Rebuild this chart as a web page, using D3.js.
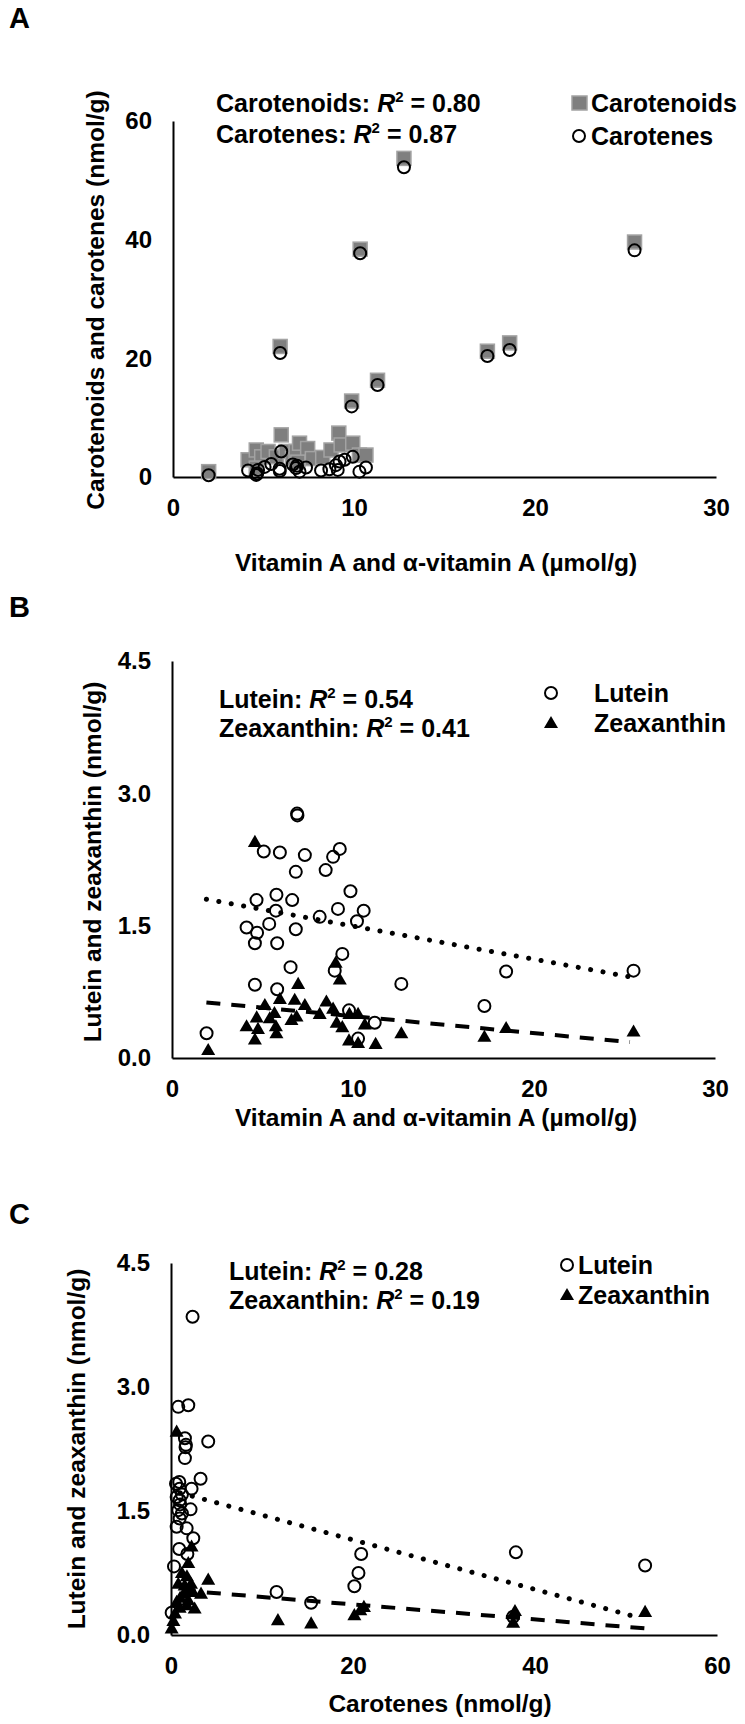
<!DOCTYPE html>
<html>
<head>
<meta charset="utf-8">
<script src="https://cdn.jsdelivr.net/npm/d3@7"></script>
<style>
  html, body { margin: 0; padding: 0; background: #fff; }
  svg { display: block; }
</style>
</head>
<body>
<script>
// ---------------- DATA ----------------
// Panel A: vitamin A (x) vs carotenoids / carotenes (y)
const aCarotenoidsX = [1.97, 5.92, 12.76, 10.34, 25.5, 17.37, 18.6, 11.3, 9.87, 4.15, 4.6, 4.9, 5.25, 5.71, 5.98, 6.25, 6.6, 6.8, 6.99, 7.44, 7.7, 8.27, 8.73, 9.16, 9.29, 9.93, 10.3, 10.66, 4.6, 6.9];
const aCarotenoidsY = [0.9, 22.0, 53.7, 38.4, 39.6, 21.2, 22.6, 16.3, 12.8, 2.9, 4.55, 3.4, 4.3, 3.4, 7.1, 4.3, 3.1, 4.3, 5.7, 4.8, 3.1, 3.3, 4.55, 7.4, 5.4, 5.7, 3.7, 3.7, 1.5, 2.5];
const aCarotenesX = [1.97, 5.92, 12.76, 10.34, 25.5, 17.37, 18.6, 11.3, 9.87, 4.15, 4.6, 4.7, 5.06, 5.43, 5.98, 5.89, 6.62, 6.8, 6.99, 7.35, 8.18, 8.64, 9.0, 9.2, 9.48, 9.93, 10.3, 10.66, 9.1, 4.65, 6.85, 5.9];
const aCarotenesY = [0.3, 20.9, 52.2, 37.7, 38.2, 20.4, 21.4, 15.5, 11.9, 1.1, 0.35, 1.2, 1.7, 2.2, 4.3, 1.4, 2.1, 1.5, 0.9, 1.6, 1.1, 1.3, 2.0, 2.6, 2.9, 3.4, 0.9, 1.6, 1.2, 0.6, 1.9, 1.0];
const aXTicks = [0, 10, 20, 30];
const aYTicks = [0, 20, 40, 60];

// Panel B: vitamin A (x) vs lutein / zeaxanthin (y)
const bLuteinX = [1.91, 4.58, 4.12, 4.58, 4.7, 4.67, 5.07, 5.37, 5.74, 5.77, 5.81, 5.96, 5.81, 6.55, 6.64, 6.84, 6.84, 6.91, 6.93, 7.34, 8.16, 8.49, 8.9, 9.27, 9.17, 8.99, 9.41, 9.86, 10.22, 10.59, 9.78, 10.28, 11.2, 12.67, 17.26, 18.46, 25.5];
const bLuteinY = [0.28, 0.83, 1.48, 1.30, 1.42, 1.79, 2.34, 1.52, 1.67, 1.85, 1.30, 2.33, 0.78, 1.03, 1.79, 1.46, 2.11, 2.77, 2.75, 2.30, 1.60, 2.13, 2.28, 2.37, 1.69, 0.99, 1.18, 1.89, 1.55, 1.67, 0.54, 0.22, 0.40, 0.84, 0.59, 0.98, 0.99];
const bZeaX = [2.0, 4.58, 4.12, 4.68, 4.75, 4.58, 5.13, 5.4, 5.66, 5.74, 5.77, 5.96, 6.6, 6.78, 6.88, 6.97, 7.34, 8.16, 8.53, 8.9, 9.04, 9.27, 9.1, 9.41, 9.8, 10.28, 9.78, 10.28, 10.65, 11.25, 12.67, 17.26, 18.46, 25.5];
const bZeaY = [0.09, 2.45, 0.36, 0.46, 0.33, 0.21, 0.60, 0.45, 0.51, 0.36, 0.28, 0.67, 0.43, 0.66, 0.47, 0.84, 0.60, 0.50, 0.64, 0.56, 1.08, 0.89, 0.40, 0.35, 0.50, 0.50, 0.20, 0.17, 0.38, 0.16, 0.28, 0.24, 0.34, 0.30];
const bLuteinTrend = [[1.9, 1.80], [25.3, 0.92]];
const bZeaTrend = [[1.9, 0.63], [25.3, 0.18]];
const bXTicks = [0, 10, 20, 30];
const lzYTicks = [0, 1.5, 3.0, 4.5];

// Panel C: carotenes (x) vs lutein / zeaxanthin (y)
const cLuteinX = [2.37, 0.8, 1.9, 1.53, 1.64, 1.53, 4.09, 3.25, 0.91, 0.95, 2.26, 0.62, 0.95, 0.8, 2.15, 0.95, 0.62, 1.72, 2.45, 0.9, 1.8, 0.33, 20.9, 20.6, 20.15, 11.6, 15.4, 0.07, 37.9, 52.1, 37.6, 0.55, 1.2, 1.0, 1.2, 1.6];
const cLuteinY = [3.85, 2.76, 2.78, 2.38, 2.30, 2.14, 2.34, 1.89, 1.85, 1.77, 1.77, 1.67, 1.63, 1.51, 1.52, 1.41, 1.31, 1.29, 1.17, 1.04, 0.98, 0.83, 0.98, 0.75, 0.59, 0.52, 0.39, 0.27, 1.0, 0.84, 0.22, 1.83, 1.70, 1.58, 1.47, 2.27];
const cZeaX = [0.62, 1.9, 2.26, 4.09, 0.8, 1.75, 1.4, 2.4, 3.3, 0.62, 1.9, 2.6, 0.44, 0.26, 0.07, 11.75, 15.4, 20.15, 20.8, 21.2, 37.8, 37.6, 52.1, 1.2, 1.5, 0.95, 1.75, 2.2, 1.0, 2.0];
const cZeaY = [2.46, 0.87, 1.07, 0.67, 0.62, 0.71, 0.50, 0.52, 0.50, 0.40, 0.42, 0.32, 0.26, 0.17, 0.08, 0.18, 0.14, 0.24, 0.30, 0.34, 0.29, 0.15, 0.28, 0.75, 0.60, 0.33, 0.36, 0.62, 0.45, 0.55];
const cLuteinTrend = [[1.0, 1.72], [51.4, 0.21]];
const cZeaTrend = [[1.2, 0.54], [52.1, 0.08]];
const cXTicks = [0, 20, 40, 60];

// ---------------- DRAWING ----------------
const W = 745, H = 1724;
const FONT = "'Liberation Sans', Arial, Helvetica, sans-serif";
const FS_TICK = 24, FS_TITLE = 24.5, FS_NOTE = 25;
const svg = d3.select("body").append("svg").attr("width", W).attr("height", H)
  .style("font-family", FONT);
svg.append("rect").attr("width", W).attr("height", H).attr("fill", "#fff");

const zip = (xs, ys) => xs.map((x, i) => [x, ys[i]]);
const triPath = d3.symbol().type(d3.symbolTriangle).size(85)();

function drawAxes(g, x, y, xTicks, yTicks, yFmt) {
  const xa = g.append("g").attr("transform", `translate(0,${y.range()[0]})`)
    .call(d3.axisBottom(x).tickValues(xTicks).tickSize(0).tickSizeOuter(0).tickPadding(22).tickFormat(d3.format("d")));
  const ya = g.append("g").attr("transform", `translate(${x.range()[0]},0)`)
    .call(d3.axisLeft(y).tickValues(yTicks).tickSize(0).tickSizeOuter(0).tickPadding(21).tickFormat(yFmt));
  [xa, ya].forEach(a => {
    a.select(".domain").attr("stroke", "#000").attr("stroke-width", 2);
    a.selectAll("text").attr("font-family", FONT).attr("font-size", FS_TICK).attr("font-weight", "bold").attr("fill", "#000");
  });
}

function text(g, x, y, str, opts = {}) {
  return g.append("text").attr("x", x).attr("y", y).text(str)
    .attr("font-size", opts.size || FS_NOTE).attr("font-weight", "bold")
    .attr("text-anchor", opts.anchor || "start").attr("fill", "#000");
}

function r2Text(g, x, y, label, val) {
  const t = g.append("text").attr("x", x).attr("y", y)
    .attr("font-size", FS_NOTE).attr("font-weight", "bold").attr("fill", "#000");
  t.append("tspan").text(label + ": ");
  t.append("tspan").attr("font-style", "italic").text("R");
  t.append("tspan").attr("font-size", 15).attr("dy", -10).text("2");
  t.append("tspan").attr("dy", 10).text(" = " + val);
}

function yLabel(g, cx, cy, str) {
  g.append("text").attr("transform", `translate(${cx},${cy}) rotate(-90)`)
    .attr("text-anchor", "middle").attr("font-size", FS_TITLE).attr("font-weight", "bold")
    .attr("fill", "#000").text(str);
}

function circles(g, x, y, pts) {
  g.append("g").selectAll("circle").data(pts).join("circle")
    .attr("cx", d => x(d[0])).attr("cy", d => y(d[1])).attr("r", 6)
    .attr("fill", "none").attr("stroke", "#000").attr("stroke-width", 2);
}
function triangles(g, x, y, pts) {
  g.append("g").selectAll("path").data(pts).join("path")
    .attr("d", triPath).attr("transform", d => `translate(${x(d[0])},${y(d[1]) + 1})`)
    .attr("fill", "#000");
}
function trend(g, x, y, pts, dash) {
  g.append("path").datum(pts)
    .attr("d", d3.line().x(d => x(d[0])).y(d => y(d[1])))
    .attr("fill", "none").attr("stroke", "#000")
    .attr("stroke-width", dash === "dot" ? 5 : 4)
    .attr("stroke-linecap", dash === "dot" ? "round" : "butt")
    .attr("stroke-dasharray", dash === "dot" ? "0.1,12.5" : "14,11");
}

const lzFmt = d3.format(".1f");

// ----- Panel A -----
{
  const g = svg.append("g");
  const x = d3.scaleLinear().domain([0, 30]).range([173, 716]);
  const y = d3.scaleLinear().domain([0, 60]).range([477, 121]);
  text(g, 9, 28, "A", { size: 29 });
  drawAxes(g, x, y, aXTicks, aYTicks, d3.format("d"));
  g.append("g").selectAll("rect").data(zip(aCarotenoidsX, aCarotenoidsY)).join("rect")
    .attr("x", d => x(d[0]) - 7).attr("y", d => y(d[1]) - 7)
    .attr("width", 14).attr("height", 14)
    .attr("fill", "#7f7f7f").attr("stroke", "#a3a3a3").attr("stroke-width", 1.5);
  circles(g, x, y, zip(aCarotenesX, aCarotenesY));
  r2Text(g, 216, 112, "Carotenoids", "0.80");
  r2Text(g, 216, 142.5, "Carotenes", "0.87");
  g.append("rect").attr("x", 572).attr("y", 96).attr("width", 15).attr("height", 14)
    .attr("fill", "#7f7f7f").attr("stroke", "#a3a3a3").attr("stroke-width", 1.5);
  text(g, 591, 112, "Carotenoids");
  g.append("circle").attr("cx", 579).attr("cy", 136).attr("r", 6)
    .attr("fill", "none").attr("stroke", "#000").attr("stroke-width", 2);
  text(g, 591, 144.5, "Carotenes");
  yLabel(g, 104, 300, "Carotenoids and carotenes (nmol/g)");
  text(g, 436, 571, "Vitamin A and α-vitamin A (µmol/g)", { anchor: "middle", size: FS_TITLE });
}

// ----- Panel B -----
{
  const g = svg.append("g");
  const x = d3.scaleLinear().domain([0, 30]).range([172, 715]);
  const y = d3.scaleLinear().domain([0, 4.5]).range([1058, 661]);
  text(g, 9, 617, "B", { size: 29 });
  drawAxes(g, x, y, bXTicks, lzYTicks, lzFmt);
  trend(g, x, y, bLuteinTrend, "dot");
  trend(g, x, y, bZeaTrend, "dash");
  circles(g, x, y, zip(bLuteinX, bLuteinY));
  triangles(g, x, y, zip(bZeaX, bZeaY));
  r2Text(g, 219, 708, "Lutein", "0.54");
  r2Text(g, 219, 736.5, "Zeaxanthin", "0.41");
  g.append("circle").attr("cx", 551).attr("cy", 693).attr("r", 6)
    .attr("fill", "none").attr("stroke", "#000").attr("stroke-width", 2);
  text(g, 594, 702, "Lutein");
  g.append("path").attr("d", triPath).attr("transform", "translate(551,724)").attr("fill", "#000");
  text(g, 594, 731.5, "Zeaxanthin");
  yLabel(g, 101, 862, "Lutein and zeaxanthin (nmol/g)");
  text(g, 436, 1126, "Vitamin A and α-vitamin A (µmol/g)", { anchor: "middle", size: FS_TITLE });
}

// ----- Panel C -----
{
  const g = svg.append("g");
  const x = d3.scaleLinear().domain([0, 60]).range([171, 717]);
  const y = d3.scaleLinear().domain([0, 4.5]).range([1635, 1263]);
  text(g, 9, 1224, "C", { size: 29 });
  drawAxes(g, x, y, cXTicks, lzYTicks, lzFmt);
  trend(g, x, y, cLuteinTrend, "dot");
  trend(g, x, y, cZeaTrend, "dash");
  circles(g, x, y, zip(cLuteinX, cLuteinY));
  triangles(g, x, y, zip(cZeaX, cZeaY));
  r2Text(g, 229, 1279.5, "Lutein", "0.28");
  r2Text(g, 229, 1308.5, "Zeaxanthin", "0.19");
  g.append("circle").attr("cx", 567).attr("cy", 1265).attr("r", 6)
    .attr("fill", "none").attr("stroke", "#000").attr("stroke-width", 2);
  text(g, 578, 1274, "Lutein");
  g.append("path").attr("d", triPath).attr("transform", "translate(567,1296)").attr("fill", "#000");
  text(g, 578, 1304, "Zeaxanthin");
  yLabel(g, 85, 1449, "Lutein and zeaxanthin (nmol/g)");
  text(g, 440, 1712, "Carotenes (nmol/g)", { anchor: "middle", size: FS_TITLE });
}
</script>
</body>
</html>
